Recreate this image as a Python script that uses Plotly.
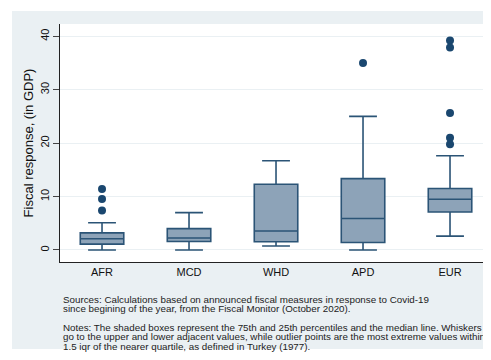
import plotly.graph_objects as go

regions = ["AFR", "MCD", "WHD", "APD", "EUR"]
q1 = [1.1, 1.6, 1.55, 1.4, 7.1]
median = [2.1, 2.25, 3.55, 5.9, 9.5]
q3 = [3.2, 4.0, 12.3, 13.35, 11.5]
lower_adj = [0.0, 0.0, 0.75, 0.0, 2.6]
upper_adj = [5.1, 7.0, 16.7, 25.0, 17.65]

outlier_region = ["AFR", "AFR", "AFR", "APD", "EUR", "EUR", "EUR", "EUR", "EUR"]
outlier_value = [11.4, 9.55, 7.4, 35.0, 39.2, 37.9, 25.65, 21.0, 19.8]

y_ticks = [0, 10, 20, 30, 40]

BG = "#EAF0F3"
BOX_FILL = "#8DA3B8"
BOX_LINE = "#2B5476"
DOT = "#1A476F"
FONT = "Liberation Sans, Arial, sans-serif"

# figure-pixel geometry (page is offset by the 8px body margin)
L, T, W, H = 52, 16, 491, 360
PB = 254  # plot bottom in figure px
PW = W - L
PH = PB - T


def px(fx):
    return (fx - L) / PW


def py(fy):
    return (PB - fy) / PH


fig = go.Figure()
fig.add_trace(go.Box(
    x=regions, q1=q1, median=median, q3=q3,
    lowerfence=lower_adj, upperfence=upper_adj,
    width=0.5, whiskerwidth=0.64,
    fillcolor=BOX_FILL, line=dict(color=BOX_LINE, width=1.6),
    boxpoints=False, showlegend=False, hoverinfo="skip",
))
fig.add_trace(go.Scatter(
    x=outlier_region, y=outlier_value, mode="markers",
    marker=dict(color=DOT, size=8), showlegend=False, hoverinfo="skip",
))

# white strips around the light grey graph region
for x0, x1, y0, y1 in [
    (px(-10), px(4), py(-10), py(400)),
    (px(-10), px(600), py(3), py(-10)),
    (px(-10), px(600), py(400), py(341)),
]:
    fig.add_shape(type="rect", xref="paper", yref="paper",
                  x0=x0, x1=x1, y0=y0, y1=y1,
                  fillcolor="white", line=dict(width=0), layer="above")

notes = [
    ("Sources: Calculations based on announced fiscal measures in response to Covid-19", 291),
    ("since begining of the year, from the Fiscal Monitor (October 2020).", 300.5),
    ("Notes: The shaded boxes represent the 75th and 25th percentiles and the median line. Whiskers", 319),
    ("go to the upper and lower adjacent values, while outlier points are the most extreme values within", 328.5),
    ("1.5 iqr of the nearer quartile, as defined in Turkey (1977).", 338),
]
for txt, fy in notes:
    fig.add_annotation(
        text=txt, xref="paper", yref="paper",
        x=px(53), y=py(fy),
        xanchor="left", yanchor="middle", showarrow=False,
        font=dict(family=FONT, size=9.8, color="#222222"),
    )

fig.update_layout(
    width=W, height=H,
    margin=dict(l=L, r=0, t=T, b=H - PB),
    paper_bgcolor=BG, plot_bgcolor="white",
    font=dict(family=FONT, color="#111111"),
)
fig.update_xaxes(
    range=[-0.483, 4.563], showline=True, linecolor="#222222", linewidth=1,
    ticks="", tickfont=dict(size=11), showgrid=False,
)
fig.update_yaxes(
    range=[-2.25, 42.3], tickvals=y_ticks, ticks="outside", ticklen=6,
    tickangle=-90, tickfont=dict(size=11),
    showline=True, linecolor="#222222", linewidth=1,
    showgrid=True, gridcolor=BG, gridwidth=1, zeroline=False,
    title=dict(text="Fiscal response, (in GDP)", font=dict(size=13), standoff=2),
)

fig.write_html("out.html")
